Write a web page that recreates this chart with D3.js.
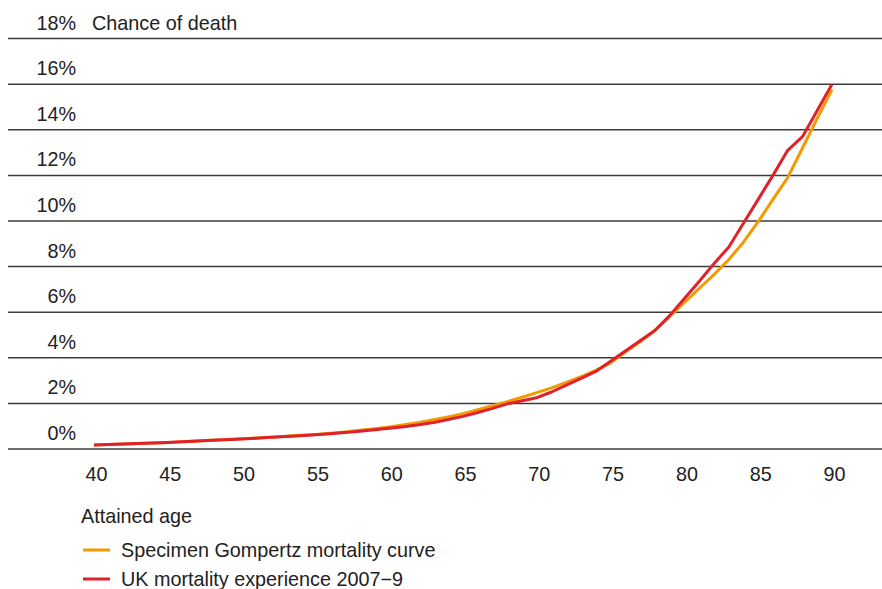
<!DOCTYPE html>
<html>
<head>
<meta charset="utf-8">
<script src="https://cdn.jsdelivr.net/npm/d3@7/dist/d3.min.js"></script>
<style>
  html, body { margin: 0; padding: 0; background: #fff; }
  svg { display: block; }
  text { font-family: "Liberation Sans", Arial, sans-serif; fill: #222; }
</style>
</head>
<body>
<div id="chart"></div>
<script>
(function () {
  'use strict';

  // attained age, 40..90
  var ages = d3.range(40, 91);

  // chance of death (%)
  var gompertz = [
    0.18, 0.20, 0.22, 0.24, 0.26, 0.29, 0.32, 0.35, 0.38, 0.42,
    0.45, 0.48, 0.52, 0.56, 0.60, 0.64, 0.69, 0.75, 0.82, 0.89,
    0.97, 1.06, 1.16, 1.28, 1.41, 1.55, 1.72, 1.90, 2.08, 2.27,
    2.47, 2.68, 2.92, 3.17, 3.45, 3.78, 4.25, 4.70, 5.20, 5.80,
    6.43, 7.04, 7.65, 8.30, 9.07, 9.97, 10.95, 11.90, 13.20, 14.50,
    15.75
  ];
  var ukExperience = [
    0.18, 0.20, 0.22, 0.24, 0.26, 0.29, 0.32, 0.35, 0.38, 0.41,
    0.44, 0.47, 0.51, 0.55, 0.58, 0.62, 0.67, 0.72, 0.78, 0.84,
    0.91, 0.98, 1.06, 1.16, 1.29, 1.43, 1.60, 1.78, 1.98, 2.12,
    2.25, 2.50, 2.80, 3.10, 3.40, 3.85, 4.30, 4.75, 5.20, 5.85,
    6.60, 7.35, 8.13, 8.85, 9.90, 10.95, 12.00, 13.10, 13.70, 14.85,
    16.00
  ];

  var yTicks = [0, 2, 4, 6, 8, 10, 12, 14, 16, 18];
  var xTicks = [40, 45, 50, 55, 60, 65, 70, 75, 80, 85, 90];

  var series = [
    { name: 'Specimen Gompertz mortality curve', values: gompertz, color: '#f39a00' },
    { name: 'UK mortality experience 2007\u22129', values: ukExperience, color: '#e0202a' }
  ];

  var width = 882, height = 589;
  var fontSize = '19.8px';

  var x = d3.scaleLinear().domain([40, 90]).range([94, 832]);
  var y = d3.scaleLinear().domain([0, 18]).range([449, 38.6]);

  var svg = d3.select('#chart').append('svg')
    .attr('width', width)
    .attr('height', height);

  // gridlines + percent labels
  var grid = svg.append('g');
  grid.selectAll('line').data(yTicks).enter().append('line')
    .attr('x1', 8).attr('x2', width)
    .attr('y1', function (d) { return y(d); })
    .attr('y2', function (d) { return y(d); })
    .attr('stroke', '#3c3c3c')
    .attr('stroke-width', 1.5);

  grid.selectAll('text').data(yTicks).enter().append('text')
    .attr('x', 76)
    .attr('y', function (d) { return y(d) - 9; })
    .attr('text-anchor', 'end')
    .attr('font-size', fontSize)
    .text(function (d) { return d + '%'; });

  svg.append('text')
    .attr('x', 92).attr('y', y(18) - 9)
    .attr('font-size', fontSize)
    .text('Chance of death');

  // x axis labels
  var xAxis = d3.axisBottom(x).tickValues(xTicks).tickSize(0).tickPadding(0)
    .tickFormat(d3.format('d'));
  var gx = svg.append('g')
    .attr('transform', 'translate(2,466)')
    .call(xAxis);
  gx.select('.domain').remove();
  gx.selectAll('text')
    .attr('dy', 0).attr('y', 15)
    .attr('font-size', fontSize)
    .attr('font-family', '"Liberation Sans", Arial, sans-serif')
    .style('fill', '#222');

  svg.append('text')
    .attr('x', 81).attr('y', 523)
    .attr('font-size', fontSize)
    .text('Attained age');

  // lines
  var line = d3.line()
    .x(function (d, i) { return x(ages[i]); })
    .y(function (d) { return y(d); });

  svg.append('g').selectAll('path').data(series).enter().append('path')
    .attr('d', function (d) { return line(d.values); })
    .attr('fill', 'none')
    .attr('stroke', function (d) { return d.color; })
    .attr('stroke-width', 3)
    .attr('stroke-linejoin', 'round');

  // legend
  var legend = svg.append('g').selectAll('g').data(series).enter().append('g')
    .attr('transform', function (d, i) { return 'translate(0,' + (550 + i * 29) + ')'; });
  legend.append('line')
    .attr('x1', 83).attr('x2', 110)
    .attr('stroke', function (d) { return d.color; })
    .attr('stroke-width', 3);
  legend.append('text')
    .attr('x', 121).attr('y', 7)
    .attr('font-size', fontSize)
    .text(function (d) { return d.name; });
})();
</script>
</body>
</html>
